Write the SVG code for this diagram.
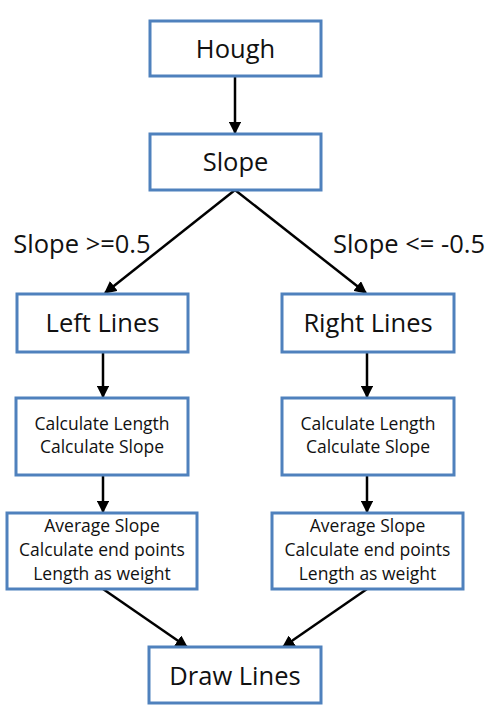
<svg xmlns="http://www.w3.org/2000/svg" width="498" height="719" viewBox="0 0 498 719">
<defs>
<style>
.box{fill:#fff;stroke:#4F81BD;stroke-width:3}
.t{font-family:"Open Sans","Liberation Sans",sans-serif;fill:#111;text-anchor:middle}
.big{font-size:25.5px}
.sm{font-size:17.5px}
.c{stroke:#000;stroke-width:2.5;fill:none;marker-end:url(#ah)}
</style>
<marker id="ah" viewBox="0 0 10 10" refX="9" refY="5" markerWidth="5" markerHeight="5" orient="auto" markerUnits="strokeWidth">
<path d="M0,0 L10,5 L0,10 z" fill="#000"/>
</marker>
</defs>
<rect width="498" height="719" fill="#fff"/>
<g id="connectors">
<line class="c" x1="235" y1="76" x2="235" y2="133"/>
<line class="c" x1="235" y1="190" x2="105" y2="293"/>
<line class="c" x1="235" y1="190" x2="366" y2="293"/>
<line class="c" x1="103" y1="352" x2="103" y2="397"/>
<line class="c" x1="367" y1="352" x2="367" y2="397"/>
<line class="c" x1="103" y1="475" x2="103" y2="512"/>
<line class="c" x1="367" y1="475" x2="367" y2="512"/>
<line class="c" x1="103" y1="589" x2="187" y2="647"/>
<line class="c" x1="367" y1="589" x2="283" y2="647"/>
</g>
<g id="label-left"><text class="t big" x="82" y="253">Slope &gt;=0.5</text></g>
<g id="label-right"><text class="t big" x="409" y="253">Slope &lt;= -0.5</text></g>
<g id="hough"><rect class="box" x="150" y="21" width="171" height="55"/><text class="t big" x="235.5" y="58">Hough</text></g>
<g id="slope"><rect class="box" x="150" y="134" width="171" height="56"/><text class="t big" x="235.5" y="171">Slope</text></g>
<g id="left-lines"><rect class="box" x="17" y="294" width="171" height="58"/><text class="t big" x="102.5" y="332">Left Lines</text></g>
<g id="right-lines"><rect class="box" x="282" y="294" width="172" height="58"/><text class="t big" x="368" y="332">Right Lines</text></g>
<g id="calc-left"><rect class="box" x="16" y="398" width="172" height="77"/><text class="t sm" x="102" y="430">Calculate Length</text><text class="t sm" x="102" y="453">Calculate Slope</text></g>
<g id="calc-right"><rect class="box" x="282" y="398" width="172" height="77"/><text class="t sm" x="368" y="430">Calculate Length</text><text class="t sm" x="368" y="453">Calculate Slope</text></g>
<g id="avg-left"><rect class="box" x="7" y="513" width="190" height="76"/><text class="t sm" x="102" y="532">Average Slope</text><text class="t sm" x="102" y="556">Calculate end points</text><text class="t sm" x="102" y="580">Length as weight</text></g>
<g id="avg-right"><rect class="box" x="272" y="513" width="191" height="76"/><text class="t sm" x="367.5" y="532">Average Slope</text><text class="t sm" x="367.5" y="556">Calculate end points</text><text class="t sm" x="367.5" y="580">Length as weight</text></g>
<g id="draw-lines"><rect class="box" x="149" y="647" width="172" height="56"/><text class="t big" x="235" y="685">Draw Lines</text></g>
</svg>
